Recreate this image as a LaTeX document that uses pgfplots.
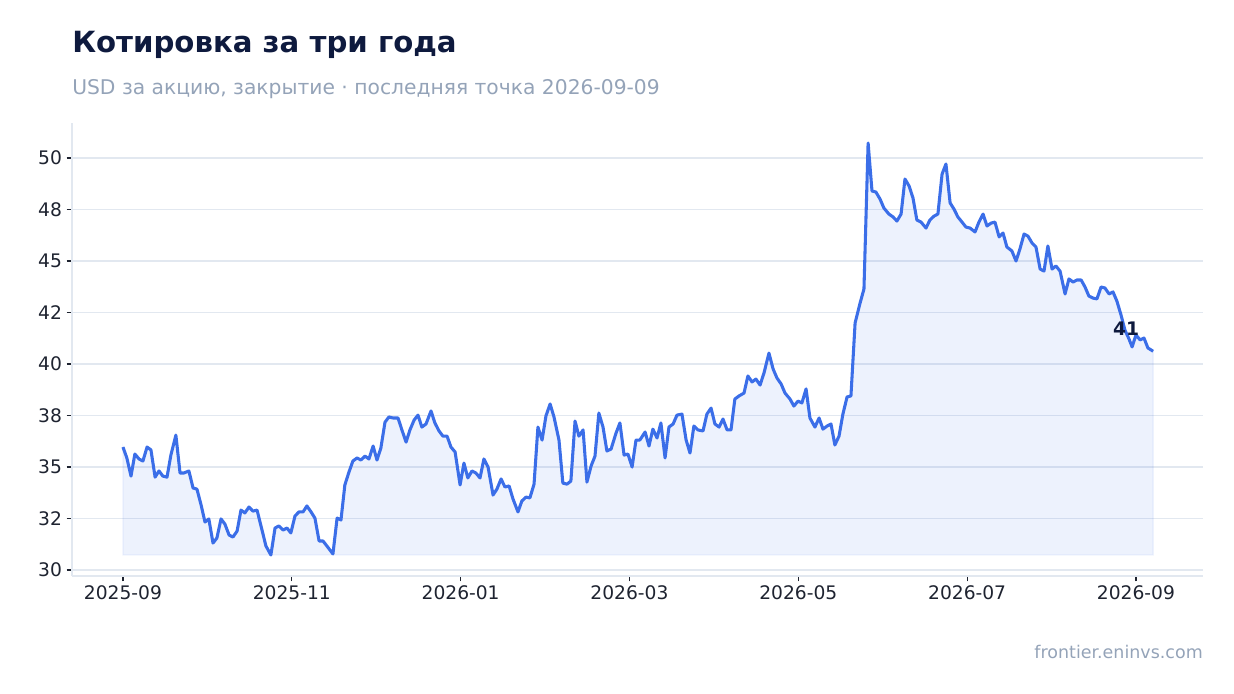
\documentclass[border=0pt]{standalone}
\usepackage{fontspec}
\setmainfont{DejaVu Sans}
\usepackage{pgfplots}
\usepackage{pgfplotstable}
\pgfplotsset{compat=1.18}
\usepgfplotslibrary{fillbetween}

\definecolor{linec}{RGB}{59,110,232}
\definecolor{gridc}{RGB}{226,232,240}
\definecolor{titlec}{RGB}{14,26,62}
\definecolor{subc}{RGB}{148,163,184}
\definecolor{tickc}{RGB}{30,35,48}

% day (from 2025-09-01), close in USD
\pgfplotstableread{
day price
0 35.97
1.4 35.44
2.9 34.56
4.3 35.63
5.8 35.39
7.2 35.29
8.7 35.97
10.1 35.83
11.6 34.51
13.0 34.81
14.4 34.56
15.9 34.51
17.3 35.58
19.1 36.55
20.6 34.71
22.0 34.71
23.8 34.81
25.3 33.98
26.7 33.93
28.2 33.16
29.6 32.33
31.0 32.48
32.5 31.31
33.9 31.55
35.4 32.48
36.8 32.23
38.3 31.70
39.7 31.60
41.2 31.89
42.6 32.91
44.0 32.77
45.5 33.06
46.9 32.86
48.4 32.91
50.2 31.94
51.6 31.17
53.4 30.73
54.9 32.04
56.3 32.14
57.8 31.94
59.2 32.04
60.6 31.80
62.1 32.62
63.5 32.82
65.0 32.82
66.4 33.11
67.9 32.82
69.3 32.52
70.8 31.41
72.2 31.41
73.6 31.17
75.8 30.78
77.3 32.52
78.7 32.43
80.1 34.13
81.6 34.76
83.0 35.29
84.5 35.44
85.9 35.34
87.4 35.53
88.8 35.39
90.3 36.02
91.7 35.34
93.1 35.92
94.6 37.18
96.0 37.43
97.5 37.38
99.3 37.38
100.7 36.80
102.2 36.21
103.6 36.80
105.1 37.28
106.5 37.52
107.9 36.94
109.4 37.09
111.2 37.72
112.6 37.14
114.1 36.75
115.5 36.50
117.0 36.50
118.4 35.97
119.9 35.73
121.7 34.13
123.1 35.19
124.5 34.47
126.0 34.81
127.4 34.71
128.9 34.47
130.3 35.39
131.8 35.00
133.6 33.64
135.0 33.93
136.5 34.42
137.9 34.03
139.4 34.08
140.8 33.45
142.6 32.82
144.0 33.35
145.5 33.54
146.9 33.50
148.4 34.17
149.8 36.94
151.3 36.31
152.7 37.48
154.2 38.06
155.6 37.43
157.4 36.31
158.8 34.22
160.3 34.17
161.7 34.32
163.2 37.23
164.6 36.50
166.1 36.80
167.5 34.27
169.0 35.05
170.4 35.53
171.8 37.62
173.3 36.94
174.7 35.78
176.2 35.87
178.0 36.65
179.4 37.14
180.9 35.58
182.3 35.63
183.8 35.00
185.2 36.31
186.6 36.31
188.5 36.70
189.9 36.02
191.3 36.84
192.8 36.41
194.2 37.14
195.7 35.44
197.1 36.94
198.6 37.09
200.0 37.52
201.8 37.57
203.3 36.31
204.7 35.68
206.1 36.99
207.6 36.80
209.4 36.75
210.8 37.57
212.3 37.86
213.7 37.09
215.2 36.94
216.6 37.33
218.1 36.80
219.5 36.80
220.9 38.30
222.4 38.45
224.2 38.59
225.6 39.42
227.1 39.13
228.5 39.27
230.0 38.98
231.4 39.56
233.2 40.53
234.7 39.76
236.1 39.32
237.6 39.03
239.0 38.59
240.8 38.30
242.2 37.96
243.7 38.20
245.1 38.11
246.6 38.79
248.0 37.38
249.8 36.94
251.3 37.38
252.7 36.84
254.2 36.99
255.6 37.09
257.0 36.07
258.5 36.50
259.9 37.57
261.4 38.40
262.8 38.45
264.3 41.99
266.1 42.96
267.5 43.64
269.0 50.73
270.4 48.40
271.8 48.35
273.3 48.01
274.7 47.57
276.5 47.28
278.0 47.14
279.4 46.94
280.9 47.28
282.3 48.98
283.8 48.64
285.2 48.06
286.6 46.99
288.1 46.89
289.9 46.60
291.3 46.99
292.8 47.18
294.2 47.28
295.7 49.22
297.1 49.71
298.6 47.82
300.0 47.52
301.4 47.14
302.9 46.89
304.3 46.65
305.8 46.60
307.6 46.41
309.0 46.89
310.5 47.28
311.9 46.70
313.4 46.84
314.8 46.89
316.3 46.17
317.7 46.36
319.1 45.68
320.9 45.49
322.4 45.00
323.8 45.58
325.3 46.31
326.7 46.21
328.2 45.87
329.6 45.68
331.1 44.61
332.5 44.51
333.9 45.73
335.4 44.61
336.8 44.76
338.3 44.51
340.1 43.40
341.5 44.13
343.0 43.98
344.4 44.08
345.9 44.08
347.3 43.74
348.7 43.30
350.2 43.20
351.6 43.16
353.1 43.74
354.5 43.69
356.0 43.40
357.4 43.50
358.8 43.06
360.3 42.38
361.7 41.65
363.2 41.21
364.3 40.83
365.7 41.41
367.2 41.17
368.6 41.26
370.0 40.78
371.9 40.62
}\pricedata

\begin{document}
\begin{tikzpicture}
\begin{axis}[
  at={(54pt,87.75pt)}, anchor=south west,
  scale only axis, width=848.25pt, height=339.75pt,
  xmin=-18.4, xmax=389.9, ymin=29.71, ymax=51.70,
  axis x line*=bottom, axis y line*=left,
  axis line style={draw=gridc, line width=1pt},
  xtick={0,60.95,121.9,182.85,243.8,304.75,365.7},
  xticklabels={2025-09,2025-11,2026-01,2026-03,2026-05,2026-07,2026-09},
  ytick={30,32.5,35,37.5,40,42.5,45,47.5,50},
  yticklabels={30,32,35,38,40,42,45,48,50},
  tick align=outside, major tick length=4pt,
  tick style={draw=tickc, line width=0.8pt},
  ticklabel style={text=tickc, font=\fontsize{14}{17}\selectfont},
  ymajorgrids, grid style={draw=gridc, line width=1pt},
]
\addplot[name path=price, draw=linec, line width=2.3pt, line join=round] table[x=day, y=price] {\pricedata};
\addplot[name path=base, draw=none] coordinates {(0,30.73) (371.9,30.73)};
\addplot[fill=linec, fill opacity=0.09, draw=linec, draw opacity=0.08, line width=1pt] fill between[of=price and base];
\node[text=titlec, font=\fontsize{14}{17}\selectfont\bfseries] at (axis cs:362.1,41.7) {41};
\end{axis}

\node[anchor=base west, inner sep=0, text=titlec, font=\fontsize{21.9}{26}\selectfont\bfseries]
  at (54pt,480pt) {Котировка за три года};
\node[anchor=base west, inner sep=0, text=subc, font=\fontsize{15.2}{18}\selectfont]
  at (54pt,448.5pt) {USD за акцию, закрытие · последняя точка 2026-09-09};
\node[anchor=base east, inner sep=0, text=subc, font=\fontsize{13.1}{16}\selectfont]
  at (902.25pt,26.25pt) {frontier.eninvs.com};
\path (0,0) rectangle (925.5pt,519.75pt);
\end{tikzpicture}
\end{document}
